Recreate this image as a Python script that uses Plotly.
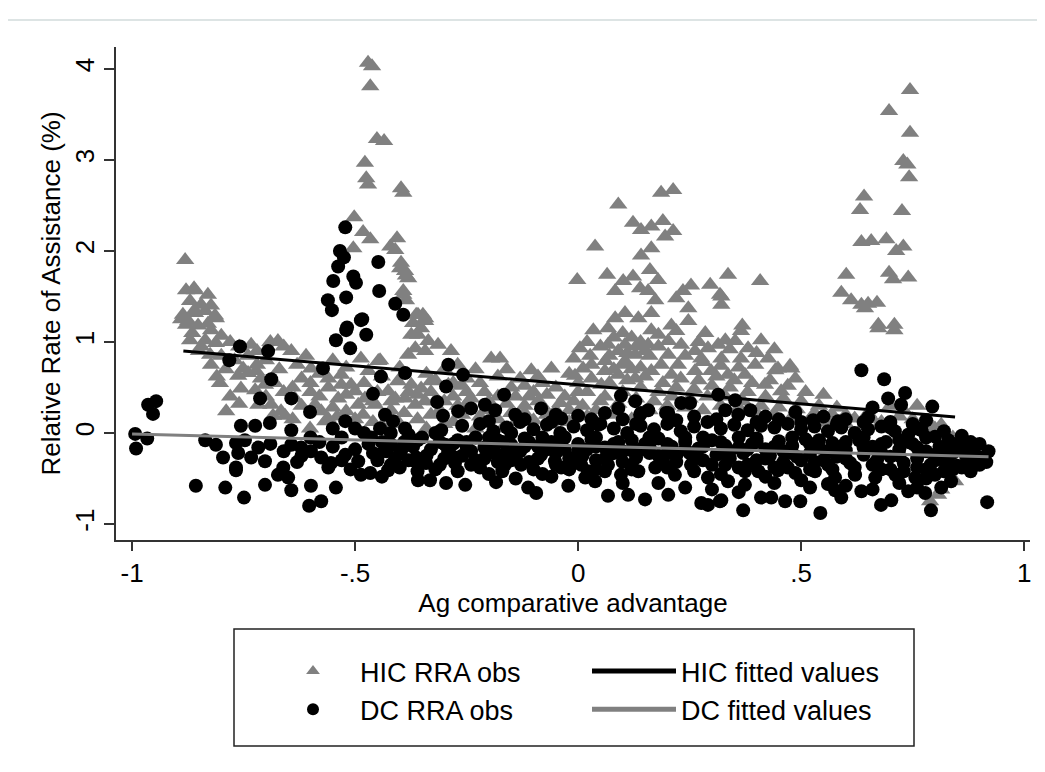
import plotly.graph_objects as go

# ---------------- data ----------------
hic_pts = [
    # spike near -0.45
    (-0.471,4.07),(-0.462,4.03),(-0.466,3.81),(-0.451,3.23),(-0.435,3.21),(-0.478,2.97),(-0.475,2.80),
    (-0.471,2.73),(-0.397,2.69),(-0.392,2.64),(-0.502,2.37),(-0.482,2.21),(-0.466,2.13),(-0.504,2.03),
    (-0.406,2.14),(-0.421,2.05),(-0.41,2.01),(-0.397,1.87),(-0.388,1.78),(-0.381,1.70),(-0.392,1.52),
    (-0.386,1.46),(-0.359,1.30),(-0.348,1.30),(-0.37,1.21),(-0.399,1.81),(-0.386,1.73),(-0.392,1.56),
    (-0.374,1.08),(-0.352,1.15),(-0.363,1.30),(-0.343,1.26),(-0.343,1.23),(-0.359,1.08),(-0.336,1.01),
    # left cluster
    (-0.881,1.90),(-0.879,1.57),(-0.861,1.59),(-0.83,1.52),(-0.87,1.45),(-0.845,1.41),(-0.823,1.40),
    (-0.886,1.30),(-0.859,1.32),(-0.836,1.34),(-0.812,1.26),(-0.874,1.23),(-0.859,1.57),(-0.814,1.29),
    (-0.879,1.19),(-0.852,1.18),(-0.823,1.13),(-0.80,1.07),(-0.87,1.02),(-0.836,1.02),(-0.812,0.99),
    (-0.825,0.86),(-0.823,0.75),(-0.803,0.55),(-0.789,0.24),(-0.865,1.10),(-0.845,0.95),(-0.85,0.90),
    (-0.78,1.00),(-0.83,1.20),(-0.86,1.35),(-0.89,1.25),
    # band -0.8 .. -0.3
    (-0.762,0.63),(-0.751,0.71),(-0.733,0.97),(-0.74,0.66),(-0.722,0.68),(-0.711,0.60),(-0.756,0.49),
    (-0.724,0.47),(-0.702,0.53),(-0.673,1.01),(-0.643,0.90),(-0.717,0.31),(-0.688,0.31),(-0.666,0.24),
    (-0.684,0.19),(-0.657,0.19),(-0.635,0.38),(-0.601,0.05),(-0.59,0.31),(-0.576,0.24),(-0.567,0.13),
    (-0.538,0.38),(-0.531,0.64),(-0.509,0.53),(-0.487,0.82),(-0.448,0.79),(-0.50,0.46),(-0.478,0.38),
    (-0.52,0.24),(-0.493,0.31),(-0.482,0.20),(-0.455,0.31),(-0.426,0.46),(-0.419,0.35),(-0.404,0.57),
    (-0.388,0.38),(-0.365,0.31),(-0.343,0.35),(-0.321,0.35),(-0.374,0.53),(-0.352,0.49),(-0.33,0.57),
    (-0.291,0.53),(-0.381,0.86),(-0.365,0.93),(-0.343,0.90),(-0.314,0.97),(-0.285,0.90),
    (-0.66,0.95),(-0.61,0.85),(-0.62,0.60),(-0.58,0.65),(-0.56,0.50),(-0.55,0.80),(-0.60,0.45),
    (-0.64,0.50),(-0.67,0.70),(-0.70,0.80),(-0.72,0.90),(-0.77,0.80),(-0.79,0.70),(-0.81,0.62),
    (-0.78,0.40),(-0.76,0.32),(-0.599,0.71),(-0.444,0.80),(-0.561,0.16),(-0.531,0.53),
    (-0.70,0.40),(-0.66,0.45),(-0.62,0.30),(-0.58,0.40),(-0.55,0.28),(-0.52,0.42),(-0.48,0.55),
    (-0.45,0.45),(-0.42,0.25),(-0.39,0.22),(-0.36,0.42),(-0.33,0.45),(-0.30,0.35),(-0.27,0.30),
    (-0.34,0.65),(-0.40,0.72),(-0.44,0.62),(-0.47,0.68),(-0.52,0.72),(-0.56,0.60),(-0.60,0.55),
    (-0.63,0.75),(-0.68,0.55),(-0.72,0.75),(-0.74,0.85),(-0.69,1.00),(-0.76,0.95),(-0.80,0.85),
    (-0.38,0.45),(-0.41,0.38),(-0.46,0.35),(-0.50,0.15),(-0.54,0.18),(-0.64,0.15),
    # centre -0.3 .. 0
    (-0.195,0.82),(-0.175,0.82),(-0.105,0.69),(-0.06,0.71),(-0.02,0.65),(-0.25,0.60),(-0.22,0.55),
    (-0.15,0.50),(-0.10,0.45),(-0.05,0.50),(0.00,0.55),(-0.28,0.40),(-0.24,0.38),(-0.20,0.35),
    (-0.16,0.32),(-0.12,0.30),(-0.08,0.30),(-0.04,0.33),(-0.26,0.20),(-0.22,0.18),(-0.18,0.15),
    (-0.14,0.12),(-0.10,0.14),(-0.06,0.10),(-0.02,0.12),(-0.30,0.70),(-0.27,0.75),(-0.23,0.70),
    (-0.13,0.60),(-0.08,0.55),(-0.03,0.40),(0.01,0.30),(-0.30,0.10),(-0.33,0.20),(-0.36,0.15),
    (-0.40,0.10),(-0.44,0.08),(-0.46,0.12),(-0.25,0.45),(-0.21,0.45),(-0.18,0.40),(-0.15,0.22),
    (-0.11,0.40),(-0.07,0.42),(-0.05,0.25),(-0.01,0.35),(-0.18,0.62),(-0.12,0.52),(-0.28,0.55),
    (-0.34,0.05),(-0.31,0.25),(-0.28,0.12),(-0.25,0.32),(-0.23,0.05),(-0.20,0.25),(-0.17,0.05),
    (-0.14,0.40),(-0.12,0.22),(-0.09,0.35),(-0.07,0.20),(-0.04,0.15),(-0.02,0.25),(0.00,0.45),
    (0.02,0.18),(-0.16,0.70),(-0.09,0.62),(-0.26,0.52),(-0.32,0.58),
    # cluster 0 .. 0.5
    (0.09,2.51),(0.186,2.64),(0.213,2.67),(0.123,2.31),(0.141,2.23),(0.164,2.27),(0.19,2.33),
    (0.195,2.16),(0.213,2.22),(0.038,2.05),(0.164,2.03),(0.141,1.95),(0.161,1.79),(0.179,1.68),
    (-0.002,1.68),(0.065,1.74),(0.101,1.67),(0.123,1.72),(0.083,1.56),(0.139,1.59),(0.157,1.56),
    (0.173,1.46),(0.336,1.74),(0.408,1.67),(0.296,1.63),(0.253,1.62),(0.235,1.56),(0.22,1.48),
    (0.318,1.52),(0.321,1.41),(0.247,1.37),(0.247,1.23),(0.164,1.32),(0.105,1.32),(0.083,1.26),
    (0.135,1.26),(0.034,1.13),(0.067,1.15),(0.164,1.13),(0.209,1.18),(0.285,1.10),(0.365,1.12),
    (0.41,1.02),(0.33,1.02),(0.004,0.93),(0.027,0.85),(0.011,0.71),(-0.007,0.63),(0.067,0.97),
    (0.105,0.97),(0.128,0.86),(0.157,0.97),(0.202,1.01),(0.231,0.97),(0.202,0.86),(0.186,0.75),
    (0.224,0.75),(0.061,0.79),(0.105,0.79),(0.262,0.90),(0.291,0.93),(0.314,0.97),(0.352,1.01),
    (0.381,0.93),(0.426,0.82),(0.442,0.69),(0.475,0.74),(0.487,0.60),(0.276,0.82),(0.321,0.82),
    (0.365,0.82),(0.397,0.75),(0.262,0.68),(0.298,0.68),(0.336,0.64),(0.374,0.64),(0.419,0.53),
    (0.455,0.46),(0.09,0.64),(0.128,0.60),(0.164,0.68),(0.209,0.64),(0.052,0.53),(0.368,1.18),
    (0.321,1.50),(0.448,0.71),(0.478,0.71),
    (0.08,1.05),(0.10,1.10),(0.12,1.05),(0.14,1.00),(0.09,0.90),(0.11,0.88),(0.13,0.95),(0.15,0.90),
    (0.07,0.85),(0.10,0.75),(0.14,0.72),(0.12,0.70),(0.08,0.70),(0.16,0.85),(0.18,0.95),(0.05,0.95),
    (0.03,0.75),(0.06,0.68),(0.24,0.85),(0.28,0.78),(0.34,0.92),(0.40,0.88),(0.44,0.92),(0.36,0.72),
    (0.32,0.74),(0.27,1.00),(0.18,1.08),(0.22,1.12),(0.02,1.00),(-0.01,0.82),
    (0.02,0.45),(0.06,0.40),(0.10,0.45),(0.14,0.50),(0.18,0.45),(0.22,0.50),(0.26,0.48),(0.30,0.52),
    (0.34,0.50),(0.38,0.45),(0.42,0.40),(0.46,0.38),(0.50,0.35),(0.54,0.30),(0.58,0.28),(0.04,0.25),
    (0.08,0.20),(0.12,0.15),(0.16,0.25),(0.20,0.30),(0.24,0.28),(0.28,0.25),(0.32,0.30),(0.36,0.28),
    (0.40,0.22),(0.44,0.20),(0.48,0.18),(0.52,0.15),(0.56,0.12),(0.60,0.10),(0.64,0.08),(0.68,0.12),
    (0.72,0.18),(0.75,0.15),(0.78,0.10),(0.80,0.05),(0.82,0.00),(0.84,-0.05),(0.70,0.30),(0.73,0.25),
    (0.76,0.30),(0.60,0.20),(0.65,0.22),
    (0.03,0.60),(0.07,0.55),(0.11,0.58),(0.15,0.62),(0.19,0.55),(0.23,0.60),(0.27,0.58),(0.31,0.62),
    (0.35,0.58),(0.39,0.55),(0.43,0.58),(0.47,0.52),(0.51,0.45),(0.55,0.42),(0.05,0.35),(0.09,0.32),
    (0.13,0.38),(0.17,0.35),(0.21,0.40),(0.25,0.38),(0.29,0.40),(0.33,0.40),(0.37,0.35),(0.41,0.30),
    (0.45,0.28),(0.49,0.26),(0.53,0.22),(0.57,0.20),(0.62,0.16),(0.66,0.15),
    # right spike near 0.7
    (0.744,3.77),(0.697,3.54),(0.744,3.30),(0.729,2.99),(0.738,2.95),(0.742,2.81),(0.641,2.60),
    (0.632,2.45),(0.726,2.44),(0.635,2.10),(0.657,2.11),(0.691,2.13),(0.713,2.00),(0.729,2.05),
    (0.601,1.74),(0.697,1.76),(0.74,1.71),(0.706,1.69),(0.59,1.54),(0.612,1.46),(0.635,1.41),
    (0.650,1.42),(0.670,1.43),(0.673,1.19),(0.709,1.19),(0.673,1.15),(0.709,1.13),(0.643,1.37),
    # right bottom
    (0.785,0.13),(0.814,0.09),(0.823,0.00),(0.845,-0.53),(0.807,-0.68),(0.789,-0.75),(0.814,-0.62),
    (0.80,-0.30),(0.82,-0.40),(0.78,-0.20),
]

dc_pts = [
    # far left
    (-0.993,-0.01),(-0.991,-0.17),(-0.966,-0.06),(-0.964,0.31),(-0.946,0.35),(-0.953,0.21),
    # spike near -0.5
    (-0.522,2.26),(-0.534,2.00),(-0.525,1.93),(-0.538,1.83),(-0.549,1.67),(-0.504,1.72),(-0.498,1.65),
    (-0.448,1.88),(-0.446,1.56),(-0.561,1.46),(-0.552,1.35),(-0.52,1.49),(-0.41,1.42),(-0.392,1.30),
    (-0.484,1.25),(-0.518,1.16),(-0.487,1.24),(-0.52,1.13),(-0.475,1.08),(-0.543,1.02),(-0.511,0.93),
    # 0 .. 1 level
    (-0.758,0.95),(-0.695,0.90),(-0.782,0.80),(-0.572,0.71),(-0.688,0.59),(-0.713,0.38),(-0.643,0.38),
    (-0.601,0.23),(-0.522,0.13),(-0.691,0.11),(-0.756,0.08),(-0.724,0.08),(-0.643,0.03),(-0.442,0.62),
    (-0.46,0.43),(-0.388,0.66),(-0.291,0.75),(-0.296,0.51),(-0.316,0.34),(-0.303,0.19),(-0.433,0.20),
    (-0.415,0.13),(-0.444,0.05),(-0.388,0.05),(-0.307,0.03),(-0.258,0.64),(-0.166,0.42),(-0.269,0.24),
    (-0.24,0.27),(-0.209,0.31),(-0.186,0.25),(-0.141,0.20),(-0.083,0.27),(-0.038,0.16),(0.00,0.19),
    (0.096,0.41),(0.128,0.35),(0.09,0.27),(0.141,0.22),(0.157,0.25),(0.202,0.22),(0.231,0.33),
    (0.251,0.33),(0.314,0.42),(0.352,0.36),(0.33,0.25),(0.045,0.09),(0.139,0.20),(0.386,0.25),
    (0.487,0.23),(0.359,0.20),(0.527,0.14),(0.583,0.13),(0.635,0.69),(0.686,0.59),(0.695,0.38),
    (0.733,0.44),(0.724,0.31),(0.794,0.29),(0.197,0.22),
    # lower left
    (-0.836,-0.08),(-0.812,-0.13),(-0.796,-0.27),(-0.767,-0.11),(-0.747,-0.08),(-0.762,-0.22),
    (-0.767,-0.38),(-0.733,-0.27),(-0.717,-0.16),(-0.702,-0.31),(-0.661,-0.38),(-0.673,-0.46),
    (-0.65,-0.49),(-0.643,-0.13),(-0.621,-0.16),(-0.599,-0.20),(-0.576,-0.27),(-0.554,-0.33),
    (-0.522,-0.24),(-0.493,-0.31),(-0.487,-0.46),(-0.466,-0.44),(-0.426,-0.41),(-0.857,-0.58),
    (-0.791,-0.60),(-0.749,-0.71),(-0.702,-0.57),(-0.643,-0.63),(-0.599,-0.58),(-0.603,-0.80),
    (-0.576,-0.75),(-0.543,-0.60),(-0.359,-0.52),(-0.332,-0.52),(-0.296,-0.55),(-0.363,-0.27),
    (-0.341,-0.33),(-0.464,-0.05),(-0.419,-0.13),(-0.397,-0.20),(-0.448,-0.24),(-0.276,-0.27),
    (-0.298,-0.13),(-0.767,-0.41),
    (-0.69,-0.12),(-0.66,-0.20),(-0.62,-0.25),(-0.58,-0.10),(-0.55,-0.15),(-0.53,-0.05),(-0.50,-0.18),
    (-0.47,-0.12),(-0.45,-0.30),(-0.43,-0.20),(-0.41,-0.28),(-0.39,-0.10),(-0.37,-0.15),(-0.35,-0.05),
    (-0.33,-0.18),(-0.31,-0.10),(-0.29,-0.20),(-0.27,-0.08),(-0.25,-0.15),(-0.56,-0.38),(-0.51,-0.40),
    (-0.44,-0.48),(-0.60,-0.05),(-0.63,-0.32),(-0.53,-0.30),(-0.46,-0.22),(-0.40,-0.38),(-0.36,-0.42),
    (-0.31,-0.35),(-0.27,-0.42),(-0.32,0.00),(-0.38,-0.02),(-0.42,0.00),(-0.48,0.00),(-0.55,0.05),
    (-0.50,0.05),
    # middle / right lower
    (-0.365,-0.31),(-0.24,-0.35),(-0.276,-0.33),(-0.291,-0.20),(-0.179,-0.27),(-0.164,-0.35),
    (-0.128,-0.35),(-0.083,-0.24),(-0.052,-0.31),(-0.038,-0.38),(0.007,-0.35),(0.016,-0.49),
    (0.067,-0.35),(0.096,-0.46),(0.135,-0.42),(0.173,-0.38),(0.217,-0.46),(0.253,-0.35),(0.291,-0.49),
    (0.33,-0.35),(-0.253,-0.57),(-0.184,-0.54),(-0.094,-0.66),(-0.112,-0.60),(-0.022,-0.58),
    (0.038,-0.53),(0.067,-0.69),(0.112,-0.68),(0.150,-0.73),(0.202,-0.68),(0.276,-0.77),(0.318,-0.75),
    (0.022,-0.42),(0.291,-0.79),(0.321,-0.74),(0.374,-0.57),(0.41,-0.71),(0.433,-0.71),(0.464,-0.75),
    (0.498,-0.75),(0.52,-0.60),(0.576,-0.63),(0.590,-0.71),(0.635,-0.64),(0.679,-0.79),(0.702,-0.74),
    (0.74,-0.64),(0.778,-0.66),(0.814,-0.60),(0.836,-0.53),(0.336,-0.53),(0.374,-0.42),(0.404,-0.42),
    (0.448,-0.41),(0.487,-0.44),(0.531,-0.42),(0.576,-0.49),(0.621,-0.46),(0.666,-0.49),(0.711,-0.46),
    (0.756,-0.49),(0.80,-0.46),(0.917,-0.76),(0.791,-0.85),(0.543,-0.88),(0.37,-0.85),(0.874,-0.20),
    (0.915,-0.32),(0.89,-0.24),(0.834,-0.14),(0.88,-0.30),(0.90,-0.27),(0.86,-0.10),
    # dense main band
    (-0.26,0.08),(-0.22,0.10),(-0.19,0.02),(-0.16,0.06),(-0.13,0.12),(-0.10,0.04),(-0.07,0.09),
    (-0.04,0.00),(-0.01,0.07),(0.02,0.03),(0.05,0.10),(0.08,0.05),(0.11,0.00),(0.14,0.08),(0.17,0.04),
    (0.20,0.10),(0.23,0.02),(0.26,0.07),(0.29,0.12),(0.32,0.05),(0.35,0.09),(0.38,0.03),(0.41,0.08),
    (0.44,0.06),(0.47,0.10),(0.50,0.04),(0.53,0.07),(0.56,0.02),(0.59,0.06),(0.62,0.00),(0.65,0.04),
    (0.68,0.07),(0.71,0.02),(0.74,-0.02),(0.77,0.03),(0.80,-0.04),(0.83,-0.08),
    (-0.25,-0.10),(-0.21,-0.16),(-0.18,-0.08),(-0.15,-0.13),(-0.12,-0.06),(-0.09,-0.15),(-0.06,-0.10),
    (-0.03,-0.18),(0.00,-0.12),(0.03,-0.07),(0.06,-0.16),(0.09,-0.10),(0.12,-0.19),(0.15,-0.12),
    (0.18,-0.06),(0.21,-0.15),(0.24,-0.10),(0.27,-0.17),(0.30,-0.08),(0.33,-0.14),(0.36,-0.05),
    (0.39,-0.12),(0.42,-0.18),(0.45,-0.09),(0.48,-0.14),(0.51,-0.07),(0.54,-0.16),(0.57,-0.11),
    (0.60,-0.19),(0.63,-0.08),(0.66,-0.15),(0.69,-0.10),(0.72,-0.18),(0.75,-0.12),(0.78,-0.20),
    (0.81,-0.15),(0.84,-0.22),(0.87,-0.26),
    (-0.23,-0.30),(-0.20,-0.22),(-0.17,-0.42),(-0.14,-0.26),(-0.11,-0.32),(-0.08,-0.45),(-0.05,-0.22),
    (-0.02,-0.28),(0.01,-0.25),(0.04,-0.30),(0.07,-0.24),(0.10,-0.32),(0.13,-0.27),(0.16,-0.22),
    (0.19,-0.30),(0.22,-0.25),(0.25,-0.22),(0.28,-0.30),(0.31,-0.24),(0.34,-0.28),(0.37,-0.22),
    (0.40,-0.30),(0.43,-0.25),(0.46,-0.32),(0.49,-0.26),(0.52,-0.22),(0.55,-0.30),(0.58,-0.26),
    (0.61,-0.33),(0.64,-0.24),(0.67,-0.30),(0.70,-0.26),(0.73,-0.33),(0.76,-0.28),(0.79,-0.35),
    (0.82,-0.30),(0.85,-0.36),
    (-0.20,-0.45),(-0.14,-0.50),(-0.06,-0.48),(0.04,-0.40),(0.10,-0.55),(0.18,-0.55),(0.24,-0.60),
    (0.30,-0.62),(0.36,-0.65),(0.44,-0.55),(0.50,-0.52),(0.56,-0.56),(0.60,-0.58),(0.66,-0.62),
    (0.72,-0.55),(0.76,-0.60),(0.78,-0.50),(0.82,-0.42),(0.86,-0.38),
    (0.55,0.18),(0.60,0.15),(0.65,0.17),(0.70,0.12),(0.75,0.10),(0.78,0.14),(0.45,0.15),(0.42,0.18),
    (0.26,0.18),(0.10,0.15),(0.06,0.22),(-0.05,0.20),(-0.12,0.15),(-0.20,0.13),(0.66,0.28),
    (-0.24,-0.20),(-0.20,-0.05),(-0.16,-0.20),(-0.12,-0.15),(-0.08,-0.05),(-0.04,-0.12),(0.00,-0.20),
    (0.04,-0.15),(0.08,-0.22),(0.12,-0.08),(0.16,-0.15),(0.20,-0.22),(0.24,-0.18),(0.28,-0.05),
    (0.32,-0.22),(0.36,-0.16),(0.40,-0.06),(0.44,-0.15),(0.48,-0.22),(0.52,-0.12),(0.56,-0.20),
    (0.60,-0.10),(0.64,-0.16),(0.68,-0.22),(0.72,-0.08),(0.76,-0.16),(0.80,-0.24),(0.84,-0.12),
    (0.88,-0.20),
    (-0.22,-0.38),(-0.18,-0.32),(-0.10,-0.40),(-0.02,-0.40),(0.06,-0.42),(0.12,-0.35),(0.20,-0.38),
    (0.26,-0.42),(0.32,-0.45),(0.38,-0.35),(0.42,-0.48),(0.47,-0.38),(0.53,-0.32),(0.57,-0.40),
    (0.62,-0.38),(0.68,-0.40),(0.73,-0.42),(0.78,-0.40),(0.83,-0.32),(0.88,-0.42),
    (-0.15,0.00),(-0.06,0.12),(0.03,0.15),(0.13,0.10),(0.22,0.14),(0.31,0.15),(0.40,0.12),(0.50,0.12),
    (0.58,0.10),(0.64,0.12),(0.70,0.06),(0.76,0.05),(0.82,0.02),(0.86,-0.03),(0.90,-0.12),
    (-0.44,-0.10),(-0.42,-0.35),(-0.40,-0.22),(-0.38,-0.30),(-0.36,-0.08),(-0.34,-0.25),(-0.32,-0.40),
    (-0.30,-0.28),(-0.28,-0.12),(-0.26,-0.25),(-0.23,-0.05),(-0.21,-0.28),(-0.19,-0.18),(-0.17,-0.10),
    (-0.15,-0.30),(-0.13,-0.20),(-0.11,-0.10),(-0.09,-0.28),(-0.07,-0.18),(-0.05,-0.35),(-0.03,-0.05),
    (-0.01,-0.30),(0.02,-0.18),(0.04,-0.05),(0.06,-0.28),(0.08,-0.12),(0.10,-0.20),(0.12,-0.40),
    (0.14,-0.18),(0.16,-0.05),(0.18,-0.25),(0.20,-0.12),(0.22,-0.32),(0.24,-0.05),(0.26,-0.28),
    (0.28,-0.15),(0.30,-0.35),(0.32,-0.10),(0.34,-0.20),(0.36,-0.38),(0.38,-0.18),(0.40,-0.10),
    (0.42,-0.28),(0.44,-0.38),(0.46,-0.20),(0.48,-0.05),(0.50,-0.30),(0.52,-0.40),(0.54,-0.08),
    (0.56,-0.35),(0.58,-0.15),(0.60,-0.28),(0.62,-0.45),(0.64,-0.05),(0.66,-0.35),(0.68,-0.12),
    (0.70,-0.40),(0.72,-0.25),(0.74,-0.10),(0.76,-0.38),(0.78,-0.05),(0.80,-0.30),(0.82,-0.20),
    (0.84,-0.40),(0.86,-0.18),(0.88,-0.10),(0.90,-0.35),(0.92,-0.20),
]

hic_x = [p[0] for p in hic_pts]
hic_y = [p[1] for p in hic_pts]
dc_x = [p[0] for p in dc_pts]
dc_y = [p[1] for p in dc_pts]

# fitted values (end points of the fitted lines)
hic_fit_x = [-0.885, 0.845]
hic_fit_y = [0.90, 0.176]
dc_fit_x = [-1.0, 0.92]
dc_fit_y = [-0.01, -0.26]

x_tickvals = [-1, -0.5, 0, 0.5, 1]
x_ticktext = ["-1", "-.5", "0", ".5", "1"]
y_tickvals = [-1, 0, 1, 2, 3, 4]
y_ticktext = ["-1", "0", "1", "2", "3", "4"]

GREY = "#808080"
FONT = "Liberation Sans, Arial, sans-serif"
FS = 26

fig = go.Figure()
fig.add_trace(go.Scatter(x=hic_x, y=hic_y, mode="markers", name="HIC RRA obs",
                         marker=dict(symbol="triangle-up", size=16, color=GREY, line=dict(width=0)),
                         legendrank=1))
fig.add_trace(go.Scatter(x=dc_x, y=dc_y, mode="markers", name="DC RRA obs",
                         marker=dict(symbol="circle", size=14, color="black", line=dict(width=0)),
                         legendrank=3))
fig.add_trace(go.Scatter(x=hic_fit_x, y=hic_fit_y, mode="lines", name="HIC fitted values",
                         line=dict(color="black", width=3), legendrank=2))
fig.add_trace(go.Scatter(x=dc_fit_x, y=dc_fit_y, mode="lines", name="DC fitted values",
                         line=dict(color=GREY, width=3), legendrank=4))

# plot area in pixels: x 108..1022, y 39..532
def px_x(p):
    return (p - 108) / 914.0

def px_y(p):
    return (532 - p) / 493.0

fig.update_layout(
    width=1045, height=772,
    margin=dict(l=108, r=23, t=39, b=240),
    paper_bgcolor="white", plot_bgcolor="white",
    font=dict(family=FONT, size=FS, color="black"),
    showlegend=True,
    legend=dict(
        orientation="h", x=px_x(258), xanchor="left", y=px_y(639), yanchor="top",
        borderwidth=0, bgcolor="rgba(0,0,0,0)",
        font=dict(family=FONT, size=27, color="black"),
        itemsizing="constant", itemwidth=84, entrywidth=222, entrywidthmode="pixels",
        traceorder="normal",
    ),
    xaxis=dict(
        range=[-1.036, 1.013], tickvals=x_tickvals, ticktext=x_ticktext,
        showgrid=False, zeroline=False, showline=True, linecolor="#333333", linewidth=1.5,
        ticks="outside", ticklen=9, tickwidth=1.5, tickcolor="#333333",
        tickfont=dict(size=FS), title=dict(text="Ag comparative advantage", font=dict(size=FS), standoff=1),
    ),
    yaxis=dict(
        range=[-1.176, 4.242], tickvals=y_tickvals, ticktext=y_ticktext, tickangle=-90,
        showgrid=False, zeroline=False, showline=True, linecolor="#333333", linewidth=1.5,
        ticks="outside", ticklen=10, tickwidth=1.5, tickcolor="#333333",
        tickfont=dict(size=FS), title=dict(text="Relative Rate of Assistance (%)", font=dict(size=FS), standoff=2),
    ),
    shapes=[
        dict(type="line", xref="paper", yref="paper", x0=-0.12, x1=1.03, y0=px_y(12), y1=px_y(12),
             line=dict(color="#dde4e4", width=2)),
        dict(type="rect", xref="paper", yref="paper", x0=px_x(226), x1=px_x(906), y0=px_y(621), y1=px_y(738),
             line=dict(color="#222222", width=1.5), fillcolor="rgba(0,0,0,0)"),
    ],
)

fig.write_html("out.html")
